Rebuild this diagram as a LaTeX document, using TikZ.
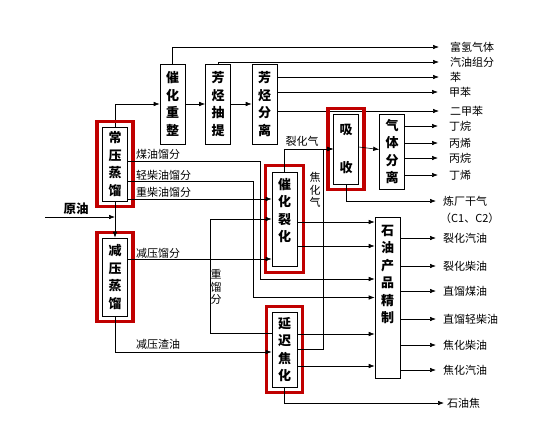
\documentclass[tikz,border=0pt]{standalone}
\usepackage{fontspec}
\setmainfont{Noto Sans CJK SC}
\usetikzlibrary{arrows.meta,fit,positioning}
\definecolor{keyred}{RGB}{192,0,0}

\begin{document}
\begin{tikzpicture}[x=1pt,y=-1pt]
        % styles
        \tikzstyle{unit}=[draw, line width=0.6pt, minimum width=25pt, inner sep=0pt, align=center, font=\bfseries\fontsize{13}{17.5}\selectfont]
        \tikzstyle{keyunit}=[draw=keyred, line width=3.5pt, inner sep=5pt]
        \tikzstyle{flow}=[->, >={Latex[length=6pt,width=4.5pt]}, line width=0.6pt]
        \tikzstyle{toprod}=[flow, shorten >=11pt]
        \tikzstyle{toprodb}=[flow, shorten >=7pt]
        \tikzstyle{lbl}=[inner sep=0pt, font=\fontsize{11}{12.5}\selectfont]
        \tikzstyle{prod}=[lbl, anchor=west]

        \useasboundingbox (0,0) rectangle (544,432);

        % units
        \node[unit, minimum height=74pt] (cy) at (115,164) {常\\压\\蒸\\馏};
        \node[unit, minimum height=78pt] (jy) at (115,277) {减\\压\\蒸\\馏};
        \node[unit, minimum height=80pt] (cz) at (172.5,104) {催\\化\\重\\整};
        \node[unit, minimum height=80pt] (fct) at (218,104) {芳\\烃\\抽\\提};
        \node[unit, minimum height=80pt] (fcf) at (264.5,104) {芳\\烃\\分\\离};
        \node[unit, minimum height=70pt, font=\bfseries\fontsize{13}{38}\selectfont] (xs) at (346,149) {吸\\收};
        \node[unit, minimum height=75pt] (qt) at (392,151.5) {气\\体\\分\\离};
        \node[unit, minimum height=94pt, text depth=18pt] (chl) at (284.5,219) {催\\化\\裂\\化};
        \node[unit, minimum height=75pt] (yc) at (284.5,349.5) {延\\迟\\焦\\化};
        \node[unit, minimum height=161pt, text depth=47pt] (jz) at (387.5,297.5) {石\\油\\产\\品\\精\\制};

        % stream labels
        \node[lbl, font=\bfseries\fontsize{12.5}{14}\selectfont] (yy) at (76,209) {原油};
        \node[prod] (mylf) at (136,154) {煤油馏分};
        \node[prod] (qcy) at (136,175) {轻柴油馏分};
        \node[prod] (zcy) at (136,192) {重柴油馏分};
        \node[prod] (jylf) at (136,253) {减压馏分};
        \node[prod] (jyzy) at (136,344) {减压渣油};
        \node[lbl] (lhq) at (302,141) {裂化气};
        \node[lbl, align=center] (jhq) at (315,190) {焦\\化\\气};
        \node[lbl, align=center] (zlf) at (216,287) {重\\馏\\分};

        % products
        \node[prod] (fq) at (450,47) {富氢气体};
        \node[prod] (qy) at (450,62) {汽油组分};
        \node[prod] (ben) at (450,77) {苯};
        \node[prod] (jb) at (449,92) {甲苯};
        \node[prod] (ejb) at (450,111) {二甲苯};
        \node[prod] (dw) at (449,126) {丁烷};
        \node[prod] (bx) at (449,143) {丙烯};
        \node[prod] (bw) at (449,158) {丙烷};
        \node[prod] (dx) at (449,175) {丁烯};
        \node[prod] (lcgq) at (443,201) {炼厂干气};
        \node[prod] (c12) at (440,218) {（C1、C2）};
        \node[prod] (lhqy) at (443,238) {裂化汽油};
        \node[prod] (lhcy) at (443,266) {裂化柴油};
        \node[prod] (zlmy) at (443,291) {直馏煤油};
        \node[prod] (zlqc) at (443,319) {直馏轻柴油};
        \node[prod] (jhcy) at (443,345) {焦化柴油};
        \node[prod] (jhqy) at (443,370) {焦化汽油};
        \node[prod] (syj) at (447,403) {石油焦};

        % reforming
        \draw[flow] (cy.north) |- (cz.west);
        \draw[flow] (cz) -- (fct);
        \draw[flow] (fct) -- (fcf);
        \draw[toprod] (cz.north) |- (fq.west);
        \draw[toprod] (fct.north) |- (qy.west);
        \draw[toprod] (fcf.east |- ben.west) -- (ben.west);
        \draw[toprod] (fcf.east |- jb.west) -- (jb.west);
        \draw[toprod] (fcf.east |- ejb.west) -- (ejb.west);

        % key units
        \node[keyunit, fit=(cy)] (cyk) {};
        \node[keyunit, fit=(jy)] (jyk) {};
        \node[keyunit, fit=(xs)] (xsk) {};
        \node[keyunit, fit=(chl), inner sep=6pt] (chlk) {};
        \node[keyunit, fit=(yc)] (yck) {};

        % crude
        \coordinate (crude) at (45,217);
        \draw[flow] (crude) -- (crude -| cy.south);
        \draw[flow] (cy.south) -- (jy.north);

        % cuts
        \draw[flow] ([yshift=3pt]cy.east) -- ++(132,0) |- ([yshift=18.5pt]jz.west);
        \draw[flow] ([yshift=-17pt]cy.east) -- ++(125,0) |- (jz.west);
        \draw[flow] ([yshift=-35pt]cy.east) -- ([yshift=20pt]chl.west);
        \draw[flow] ([yshift=18pt]jy.east) -- ([yshift=-40pt]chl.west);
        \draw[flow] (jy.south) |- ([yshift=-2.5pt]yc.west);
        \draw[flow] ([yshift=16.5pt]yc.west) -- ++(-61,0) |- (chl.west);
        \draw[flow] ([yshift=-3pt]chl.east) -- ([yshift=75.5pt]jz.west);
        \draw[flow] ([yshift=-27pt]chl.east) -- ([yshift=51.5pt]jz.west);
        \draw[flow] ([yshift=15.5pt]yc.east) -- ([yshift=-36.5pt]jz.west);
        \draw[flow] ([yshift=-16.5pt]yc.east) -- ([yshift=-68.5pt]jz.west);
        \draw[toprod, shorten >=3pt] (yc.south) |- (syj.west);

        % gases
        \draw[flow] (chl.north) |- (xs.west);
        \draw[flow] ([yshift=0.5pt]yc.east) -- ++(26,0) |- (xs.west);
        \draw[flow] ([yshift=2pt]xs.east) -- ([yshift=2pt]qt.west);
        \draw[toprodb] (xs.south) |- (lcgq.west);
        \draw[toprod] (qt.east |- dw.west) -- (dw.west);
        \draw[toprod] (qt.east |- bx.west) -- (bx.west);
        \draw[toprod] (qt.east |- bw.west) -- (bw.west);
        \draw[toprod] (qt.east |- dx.west) -- (dx.west);

        % refined products
        \draw[toprodb] (jz.east |- lhqy.west) -- (lhqy.west);
        \draw[toprodb] (jz.east |- lhcy.west) -- (lhcy.west);
        \draw[toprodb] (jz.east |- zlmy.west) -- (zlmy.west);
        \draw[toprodb] (jz.east |- zlqc.west) -- (zlqc.west);
        \draw[toprodb] (jz.east |- jhcy.west) -- (jhcy.west);
        \draw[toprodb] (jz.east |- jhqy.west) -- (jhqy.west);
    \end{tikzpicture}
\end{document}
